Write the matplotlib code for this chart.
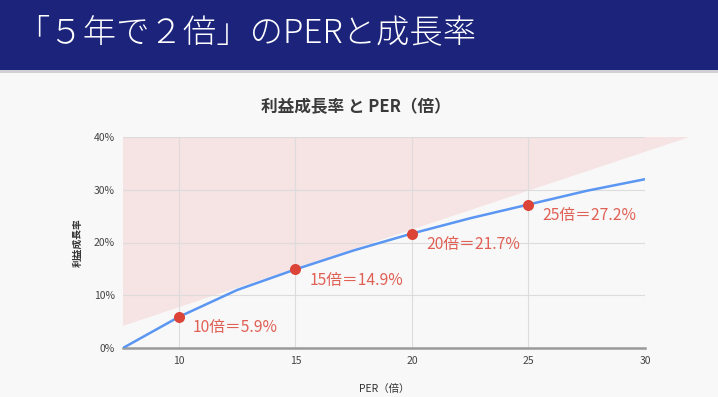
import numpy as np
import matplotlib.pyplot as plt
from matplotlib.patches import Polygon, Rectangle

plt.rcParams['font.family'] = ['Noto Sans CJK JP', 'DejaVu Sans']

# data
per = [7.6, 10, 12.5, 15, 17.5, 20, 22.5, 25, 27.5, 30]
growth = [0.0, 5.9, 11.0, 14.9, 18.5, 21.7, 24.6, 27.2, 29.8, 32.0]
mark_per = [10, 15, 20, 25]
mark_growth = [5.9, 14.9, 21.7, 27.2]
mark_labels = ["10倍＝5.9%", "15倍＝14.9%", "20倍＝21.7%", "25倍＝27.2%"]
shade_x = [7.6, 31.9, 7.6]
shade_y = [4.2, 40.0, 40.0]
x_ticks = [10, 15, 20, 25, 30]
y_ticks = [0, 10, 20, 30, 40]

W, H = 718, 397
fig = plt.figure(figsize=(W / 100, H / 100), dpi=100)
fig.patch.set_facecolor('#f8f8f8')

# header band
fig.patches.append(Rectangle((0, 1 - 70 / H), 1, 70 / H, transform=fig.transFigure,
                             facecolor='#1b237b', edgecolor='none', zorder=0))
fig.patches.append(Rectangle((0, 1 - 73 / H), 1, 3 / H, transform=fig.transFigure,
                             facecolor='#d0d0d4', edgecolor='none', zorder=0))
fig.text(16 / W, 1 - 33 / H, "「５年で２倍」のPERと成長率", color='white', fontsize=24,
         va='center', ha='left', fontweight='light')

ax = fig.add_axes([123 / W, 1 - 348 / H, (645 - 123) / W, (348 - 137) / H])
ax.set_facecolor('#f8f8f8')
ax.set_xlim(7.6, 30)
ax.set_ylim(0, 40)

ax.add_patch(Polygon(list(zip(shade_x, shade_y)), closed=True, facecolor='#f6e3e3',
                     edgecolor='none', clip_on=False, zorder=0.2))
ax.plot(per, growth, color='#5a96f2', lw=1.8, zorder=3)
ax.scatter(mark_per, mark_growth, s=48, color='#db4437', zorder=4)
for xv, yv, lab in zip(mark_per, mark_growth, mark_labels):
    ax.annotate(lab, (xv, yv), xytext=(10, -8), textcoords='offset points',
                color='#e06055', fontsize=11.3, ha='left', va='center', zorder=5)

ax.set_xticks(x_ticks)
ax.set_yticks(y_ticks)
ax.set_yticklabels([f"{v}%" for v in y_ticks])
ax.grid(True, color='#dcdcdc', lw=0.8)
ax.set_axisbelow(True)
for side in ['top', 'right', 'left']:
    ax.spines[side].set_visible(False)
ax.spines['bottom'].set_color('#9a9a9a')
ax.spines['bottom'].set_linewidth(1.8)
ax.spines['bottom'].set_zorder(2)
ax.tick_params(length=0, labelsize=7.5, colors='#444444', pad=6)

fig.text(356 / W, 1 - 107 / H, "利益成長率 と PER（倍）", fontsize=12, fontweight='bold',
         color='#3a3a3a', ha='center', va='center')
ax.set_xlabel("PER（倍）", fontsize=7.5, color='#333333', labelpad=13)
ax.set_ylabel("利益成長率", fontsize=7, fontweight='bold', color='#333333', labelpad=8)

fig.savefig("out.png", dpi=100, facecolor=fig.get_facecolor())
